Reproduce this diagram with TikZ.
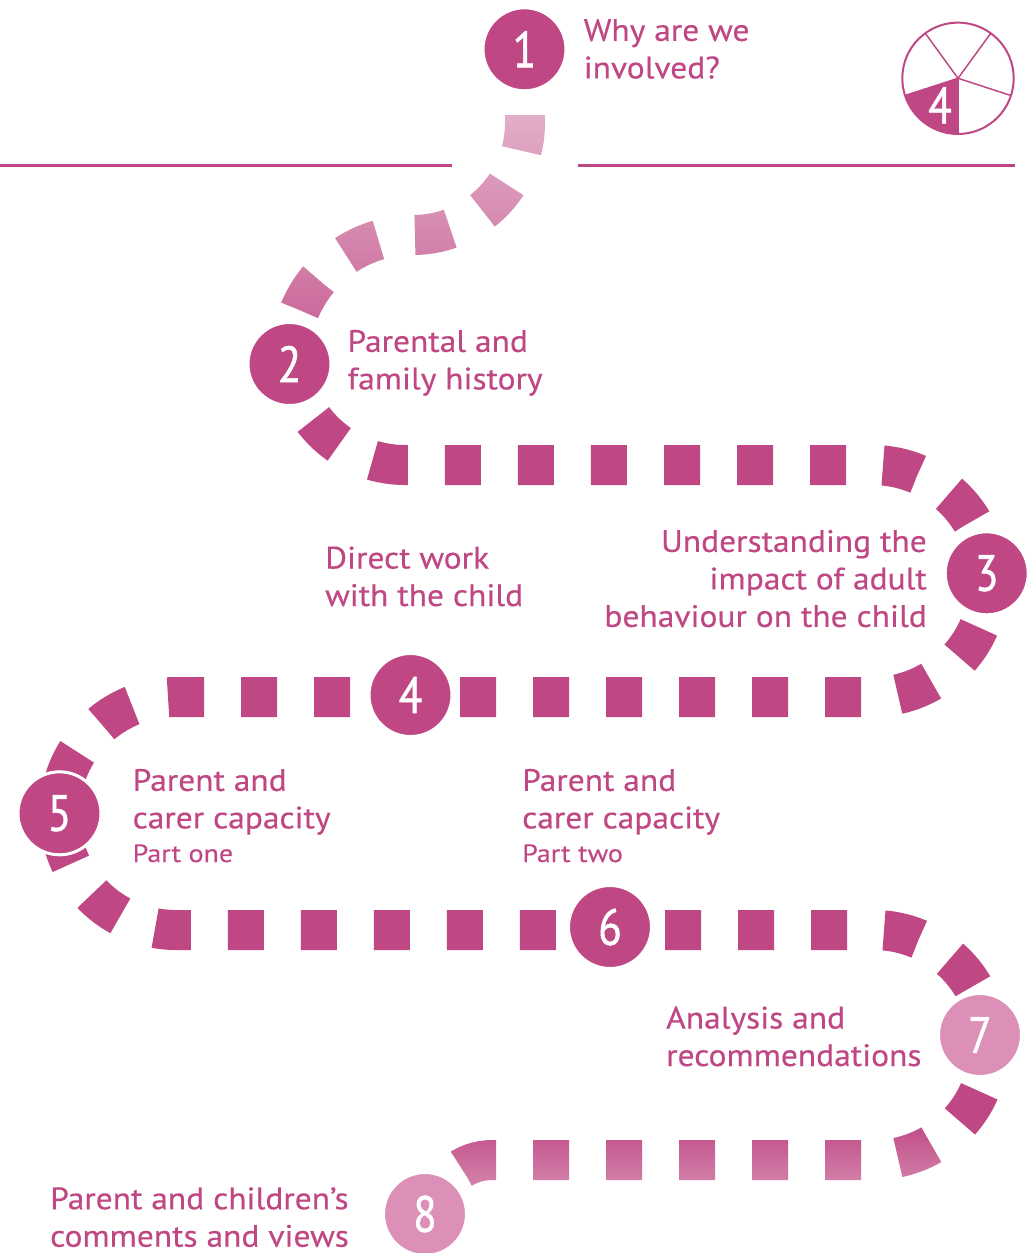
\documentclass[tikz,border=0pt]{standalone}
\usepackage{fontspec}
\setmainfont{PT Sans}[FakeStretch=1.08, FakeBold=0.4]
\newfontfamily\numfont{PT Sans}[FakeStretch=0.85, FakeBold=0.9]
\newfontfamily\subfont{PT Sans}[FakeStretch=1.12, FakeBold=0.3]
\usetikzlibrary{fadings}
\definecolor{mag}{RGB}{191,72,132}
\definecolor{lightmag}{RGB}{220,143,183}
\tikzfading[name=topfade, top color=transparent!25, bottom color=transparent!100]
\tikzfading[name=botfade, top color=transparent!100, bottom color=transparent!60]
\newcommand{\mystrut}{\rule{0pt}{30pt}}
\begin{document}
\begin{tikzpicture}[x=1pt,y=-1pt,
  trail/.style={draw=mag, line width=40pt, dash pattern=on 36pt off 37pt, line cap=butt},
  stepcircle/.style={circle, fill=mag, draw=white, line width=3pt, minimum size=83pt, inner sep=0pt,
     text=white, font=\numfont\fontsize{51}{51}\selectfont},
  lightcircle/.style={stepcircle, fill=lightmag},
  steptext/.style={text=mag, font=\fontsize{31}{37.5}\selectfont, inner sep=0pt, align=left, anchor=north west},
  subtext/.style={text=mag, font=\subfont\fontsize{25}{28}\selectfont, inner sep=0pt, anchor=base west},
  rule/.style={draw=mag, line width=2.5pt}]
\useasboundingbox (0,0) rectangle (1032,1253);

% path waypoints (hidden under the circles)
\coordinate (p1) at (525,49);
\coordinate (p2a) at (290,358);
\coordinate (p2b) at (290,350);
\coordinate (p3) at (988.5,581);
\coordinate (p4) at (411,697);
\coordinate (p5) at (59.5,813.5);
\coordinate (p6) at (610,930);
\coordinate (p7) at (989,1045);
\coordinate (p8) at (433.9,1208.8);

% dashed trail
\draw[trail, dash phase=7pt] (p1) -- (525,123) .. controls (525,184.86) and (474.86,235) .. (413,235)
   .. controls (345.07,235) and (290,290.07) .. (p2a);
\draw[trail, dash phase=71.36pt] (p2b) .. controls (290,413.51) and (341.49,465) .. (405,465) -- (872.5,465)
   .. controls (936.57,465) and (988.5,516.93) .. (p3);
\draw[trail, dash phase=25.29pt] (p3) .. controls (988.5,645.07) and (936.57,697) .. (872.5,697) -- (p4);
\draw[trail, dash phase=12pt] (p4) -- (176,697) .. controls (111.66,697) and (59.5,749.16) .. (p5);
\draw[trail, dash phase=57.01pt] (p5) .. controls (59.5,877.84) and (111.66,930) .. (176,930) -- (p6);
\draw[trail, dash phase=18pt] (p6) -- (874,930) .. controls (937.51,930) and (989,981.49) .. (p7);
\draw[trail, dash phase=25.36pt] (p7) .. controls (989,1108.51) and (937.51,1160) .. (874,1160) -- (492,1160)
   .. controls (463.4,1160) and (438.9,1180.6) .. (p8);

% fading of the first and last parts of the trail
\fill[white, path fading=topfade] (265,12.5) rectangle (560,422.5);
\fill[white, path fading=botfade] (445,1119.5) rectangle (948,1201.5);

% horizontal rules
\draw[rule] (0,165.5) -- (452,165.5);
\draw[rule] (578,165.5) -- (1015,165.5);

% step circles
\node[stepcircle] (c1) at (524.5,49.3) {1};
\node[stepcircle] (c2) at (289.5,364) {2};
\node[stepcircle] (c3) at (986.7,573.3) {3};
\node[stepcircle] (c4) at (410.5,695) {4};
\node[stepcircle] (c5) at (59.5,813.3) {5};
\node[stepcircle] (c6) at (610,927) {6};
\node[lightcircle] (c7) at (980,1035) {7};
\node[lightcircle] (c8) at (425,1214) {8};

% labels
\node[steptext] (t1) at (583.5,10.7) {\mystrut Why are we\\involved?};
\node[steptext] (t2) at (347.3,321.7) {\mystrut Parental and\\family history};
\node[steptext, anchor=north east, align=right] (t3) at (927,521.7) {\mystrut Understanding the\\impact of adult\\behaviour on the child};
\node[steptext] (t4) at (325,538.3) {\mystrut Direct work\\with the child};
\node[steptext] (t5) at (132.5,760.7) {\mystrut Parent and\\carer capacity};
\node[subtext] (s5) at (132.5,862) {Part one};
\node[steptext] (t6) at (522,760.7) {\mystrut Parent and\\carer capacity};
\node[subtext] (s6) at (522,862) {Part two};
\node[steptext] (t7) at (666,998.3) {\mystrut Analysis and\\recommendations};
\node[steptext] (t8) at (50,1179) {\mystrut Parent and children’s\\comments and views};

% section pie
\coordinate (pc) at (958,78.3);
\fill[mag] (pc) -- ++(198:55.7pt) arc[start angle=198, end angle=270, radius=55.7pt] -- cycle;
\draw[mag, line width=2pt] (pc) circle[radius=55.7pt];
\foreach \a in {54,126,198,270,342} \draw[mag, line width=1.5pt] (pc) -- ++(\a:55.7pt);
\node[text=white, font=\numfont\fontsize{51}{51}\selectfont, inner sep=0pt, anchor=base] (pienum) at (940,123.3) {4};
\end{tikzpicture}
\end{document}
